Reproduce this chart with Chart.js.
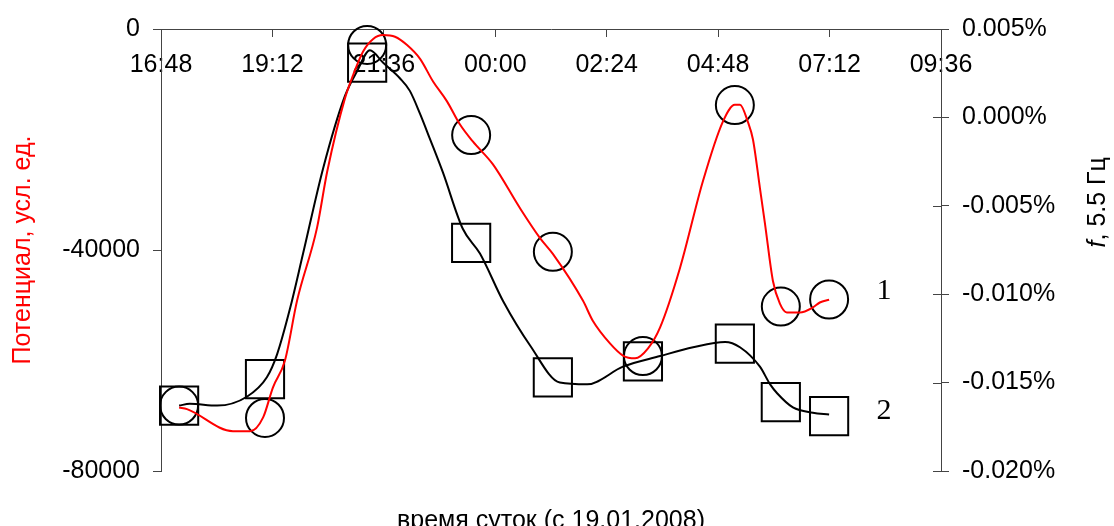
<!DOCTYPE html>
<html>
<head>
<meta charset="utf-8">
<script src="https://cdn.jsdelivr.net/npm/chart.js@4/dist/chart.umd.min.js"></script>
<style>
  html, body { margin: 0; padding: 0; background: #fff; }
  #wrap { width: 1114px; height: 526px; }
</style>
</head>
<body>
<div id="wrap"><canvas id="myChart" width="1114" height="526"></canvas></div>
<script>
// время в часах от 0:00 19.01.2008 (24+ = следующие сутки)
const xMin = 16.8, xMax = 33.6, xStep = 2.4;

// потенциал (красная кривая), левая ось
const potTime = [17.19, 17.36, 18.35, 18.72, 19.00, 19.21, 19.47, 19.73, 20.16, 20.38, 20.76, 20.94, 21.15, 21.37, 21.58, 21.84, 22.10, 22.38, 22.66, 22.96, 23.24, 23.52, 23.95, 24.53, 24.96, 25.24, 25.89, 26.10, 26.47, 26.75, 27.01, 27.29, 27.55, 27.98, 28.47, 28.90, 29.16, 29.27, 29.44, 29.55, 29.70, 29.81, 29.98, 30.13, 30.28, 30.56, 30.84, 30.99, 31.19];
const potValue = [-68500, -68800, -72800, -72800, -70300, -64900, -60000, -49200, -36000, -25800, -12600, -8300, -4100, -1800, -1100, -1400, -2900, -5400, -9500, -13100, -17300, -20400, -24500, -32400, -37800, -40700, -49200, -52800, -56900, -59100, -59600, -57800, -54000, -43200, -27600, -16800, -13700, -13700, -16800, -20000, -28800, -35300, -45600, -49700, -51300, -51300, -50400, -49500, -49000];

// f (чёрная кривая), правая ось, %
const fTime = [17.19, 17.42, 18.01, 18.65, 19.08, 19.30, 19.58, 19.86, 20.29, 20.76, 21.02, 21.30, 21.58, 21.95, 22.16, 22.38, 22.59, 22.87, 23.30, 23.67, 24.17, 24.75, 25.39, 25.98, 26.75, 27.55, 28.26, 28.95, 29.27, 29.70, 29.92, 30.07, 30.41, 30.84, 31.19];
const fValue = [-0.0163, -0.0162, -0.0163, -0.0158, -0.0147, -0.0134, -0.0108, -0.0077, -0.0029, 0.0012, 0.0026, 0.0038, 0.0031, 0.0022, 0.0015, 0.0002, -0.0012, -0.0031, -0.0063, -0.0077, -0.0104, -0.0129, -0.0150, -0.0151, -0.0141, -0.0135, -0.0130, -0.0127, -0.0130, -0.0141, -0.0151, -0.0156, -0.0164, -0.0167, -0.0168];

// измерения: кружки (1) и квадраты (2), правая ось, %
const markTime = [17.19, 19.04, 21.24, 23.48, 25.24, 27.18, 29.16, 30.15, 31.19];
const series1 = [-0.0163, -0.0170, 0.0041, -0.0010, -0.0076, -0.0135, 0.0007, -0.0107, -0.0103];
const series2 = [-0.0163, -0.0148, 0.0031, -0.0071, -0.0147, -0.0138, -0.0128, -0.0161, -0.0169];

// подписи кривых
const seriesNames = ['1', '2'];
const seriesNameX = [32.37, 32.37];
const seriesNameY = [-0.0098, -0.0166];

const axisColor = '#444';
const sans = "'Liberation Sans', Arial, sans-serif";

function toPoints(xs, ys) {
	return xs.map((x, i) => ({x: x, y: ys[i]}));
}

function hhmm(v) {
	let m = Math.round(v * 60) % 1440;
	const h = Math.floor(m / 60);
	m = m % 60;
	return String(h).padStart(2, '0') + ':' + String(m).padStart(2, '0');
}

const extras = {
	id: 'extras',
	afterDraw(chart) {
		const ctx = chart.ctx;
		const area = chart.chartArea;
		const y2 = chart.scales.y2;
		const x = chart.scales.x;
		ctx.save();
		// внутренние засечки правой оси
		ctx.strokeStyle = axisColor;
		ctx.lineWidth = 1;
		y2.ticks.forEach(t => {
			const py = Math.round(y2.getPixelForValue(t.value)) + 0.5;
			ctx.beginPath();
			ctx.moveTo(area.right - 8, py);
			ctx.lineTo(area.right, py);
			ctx.stroke();
		});
		// подпись оси X
		ctx.fillStyle = '#000';
		ctx.font = '25px ' + sans;
		ctx.textAlign = 'center';
		ctx.textBaseline = 'alphabetic';
		ctx.fillText('время суток (с 19.01.2008)', (area.left + area.right) / 2, area.bottom + 57);
		// подпись правой оси
		ctx.translate(area.right + 157, area.top + (area.bottom - area.top) * 0.392);
		ctx.rotate(-Math.PI / 2);
		ctx.textBaseline = 'middle';
		ctx.textAlign = 'left';
		ctx.font = 'italic 25px ' + sans;
		const w1 = ctx.measureText('f').width;
		ctx.font = '25px ' + sans;
		const w2 = ctx.measureText(', 5.5 Гц').width;
		let sx = -(w1 + w2) / 2;
		ctx.font = 'italic 25px ' + sans;
		ctx.fillText('f', sx, 0);
		ctx.font = '25px ' + sans;
		ctx.fillText(', 5.5 Гц', sx + w1, 0);
		ctx.restore();
		// номера серий
		ctx.save();
		ctx.fillStyle = '#000';
		ctx.font = "30px 'Liberation Serif', 'Times New Roman', serif";
		ctx.textAlign = 'center';
		ctx.textBaseline = 'middle';
		seriesNames.forEach((s, i) => {
			ctx.fillText(s, x.getPixelForValue(seriesNameX[i]), y2.getPixelForValue(seriesNameY[i]));
		});
		ctx.restore();
	}
};

const data = {
	datasets: [{
		label: 'Потенциал',
		data: toPoints(potTime, potValue),
		yAxisID: 'y',
		showLine: true,
		borderColor: '#ff0000',
		borderWidth: 2,
		pointRadius: 0,
		cubicInterpolationMode: 'monotone',
		clip: false
	}, {
		label: 'f',
		data: toPoints(fTime, fValue),
		yAxisID: 'y2',
		showLine: true,
		borderColor: '#000',
		borderWidth: 2,
		pointRadius: 0,
		cubicInterpolationMode: 'monotone',
		clip: false
	}, {
		label: '1',
		data: toPoints(markTime, series1),
		yAxisID: 'y2',
		showLine: false,
		pointStyle: 'circle',
		pointRadius: 19,
		pointBorderWidth: 2,
		pointBorderColor: '#000',
		pointBackgroundColor: 'rgba(0,0,0,0)',
		clip: false
	}, {
		label: '2',
		data: toPoints(markTime, series2),
		yAxisID: 'y2',
		showLine: false,
		pointStyle: 'rect',
		pointRadius: 27,
		pointBorderWidth: 2,
		pointBorderColor: '#000',
		pointBackgroundColor: 'rgba(0,0,0,0)',
		clip: false
	}]
};

const config = {
	type: 'scatter',
	data: data,
	plugins: [extras],
	options: {
		responsive: false,
		animation: false,
		layout: { padding: { top: 27, bottom: 55, left: 0, right: 0 } },
		plugins: {
			legend: { display: false },
			tooltip: { enabled: false },
			title: { display: false }
		},
		scales: {
			x: {
				type: 'linear',
				position: { y: 0 },
				min: xMin,
				max: xMax,
				grid: { drawOnChartArea: false, tickLength: 7, color: axisColor },
				border: { color: axisColor },
				ticks: {
					stepSize: xStep,
					padding: 14,
					color: '#000',
					font: { family: sans, size: 25 },
					maxRotation: 0,
					autoSkip: false,
					callback: v => hhmm(v)
				}
			},
			y: {
				position: 'left',
				min: -80000,
				max: 0,
				afterFit: s => { s.width = 161; },
				grid: { drawOnChartArea: false, tickLength: 8, color: axisColor },
				border: { color: axisColor },
				ticks: {
					stepSize: 40000,
					padding: 13,
					color: '#000',
					font: { family: sans, size: 25 },
					callback: v => String(Math.round(v))
				},
				title: {
					display: true,
					text: 'Потенциал, усл. ед.',
					color: '#ff0000',
					font: { family: sans, size: 25 },
					padding: { top: 8, bottom: 0 }
				}
			},
			y2: {
				position: 'right',
				min: -0.02,
				max: 0.005,
				afterFit: s => { s.width = 173; },
				grid: { drawOnChartArea: false, tickLength: 8, color: axisColor },
				border: { color: axisColor },
				ticks: {
					stepSize: 0.005,
					padding: 13,
					color: '#000',
					font: { family: sans, size: 25 },
					callback: v => v.toFixed(3) + '%'
				}
			}
		}
	}
};

const myChart = new Chart(
	document.getElementById('myChart'),
	config
);
</script>
</body>
</html>
